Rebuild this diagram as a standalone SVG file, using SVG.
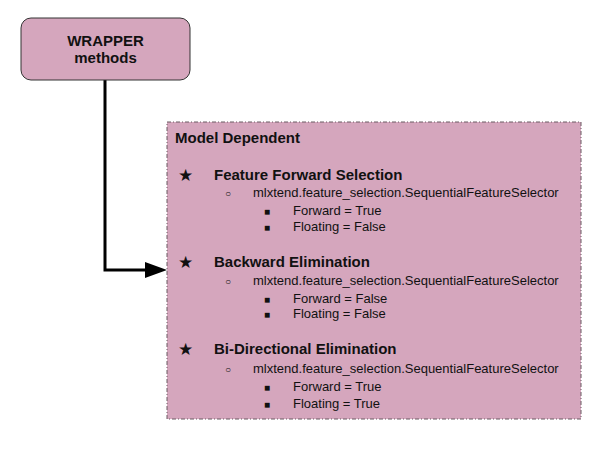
<svg xmlns="http://www.w3.org/2000/svg" width="611" height="451" viewBox="0 0 611 451">
<style>
.b{font-family:"Liberation Sans",Arial,sans-serif;font-weight:bold;font-size:15px;fill:#111}
.r{font-family:"Liberation Sans",Arial,sans-serif;font-size:13px;fill:#111}
.star{font-family:"DejaVu Sans",sans-serif;font-size:17px;fill:#111}
.circ{font-family:"Liberation Sans",Arial,sans-serif;font-size:10px;fill:#111}
.sq{font-family:"Liberation Sans",Arial,sans-serif;font-size:10px;fill:#111}
</style>
<rect width="611" height="451" fill="#fff"/>
<g id="connectors">
<polyline points="105,80 105,270 147,270" fill="none" stroke="#000" stroke-width="3"/>
<polygon points="145,262 167,270 145,278" fill="#000"/>
</g>
<g id="wrapper">
<rect x="21" y="18" width="169" height="62" rx="10" fill="#d5a6bd" stroke="#333" stroke-width="1"/>
<text class="b" x="105.5" y="46" text-anchor="middle">WRAPPER</text>
<text class="b" x="105.5" y="63" text-anchor="middle">methods</text>
</g>
<g id="model-dependent">
<rect x="167" y="122" width="414" height="297" fill="#d5a6bd" stroke="#6b5a63" stroke-width="1" stroke-dasharray="4,2,1,2"/>
<text class="b" x="175" y="143">Model Dependent</text>
<text class="star" x="178" y="181">★</text>
<text class="b" x="214" y="180">Feature Forward Selection</text>
<text class="circ" x="225" y="197">○</text>
<text class="r" x="253" y="197">mlxtend.feature_selection.SequentialFeatureSelector</text>
<text class="sq" x="264" y="215">■</text>
<text class="r" x="293" y="215">Forward = True</text>
<text class="sq" x="264" y="231">■</text>
<text class="r" x="293" y="231">Floating = False</text>
<text class="star" x="178" y="268">★</text>
<text class="b" x="214" y="267">Backward Elimination</text>
<text class="circ" x="225" y="285">○</text>
<text class="r" x="253" y="285">mlxtend.feature_selection.SequentialFeatureSelector</text>
<text class="sq" x="264" y="303">■</text>
<text class="r" x="293" y="303">Forward = False</text>
<text class="sq" x="264" y="318">■</text>
<text class="r" x="293" y="318">Floating = False</text>
<text class="star" x="178" y="355">★</text>
<text class="b" x="214" y="354">Bi-Directional Elimination</text>
<text class="circ" x="225" y="373">○</text>
<text class="r" x="253" y="373">mlxtend.feature_selection.SequentialFeatureSelector</text>
<text class="sq" x="264" y="391">■</text>
<text class="r" x="293" y="391">Forward = True</text>
<text class="sq" x="264" y="408">■</text>
<text class="r" x="293" y="408">Floating = True</text>
</g>
</svg>
